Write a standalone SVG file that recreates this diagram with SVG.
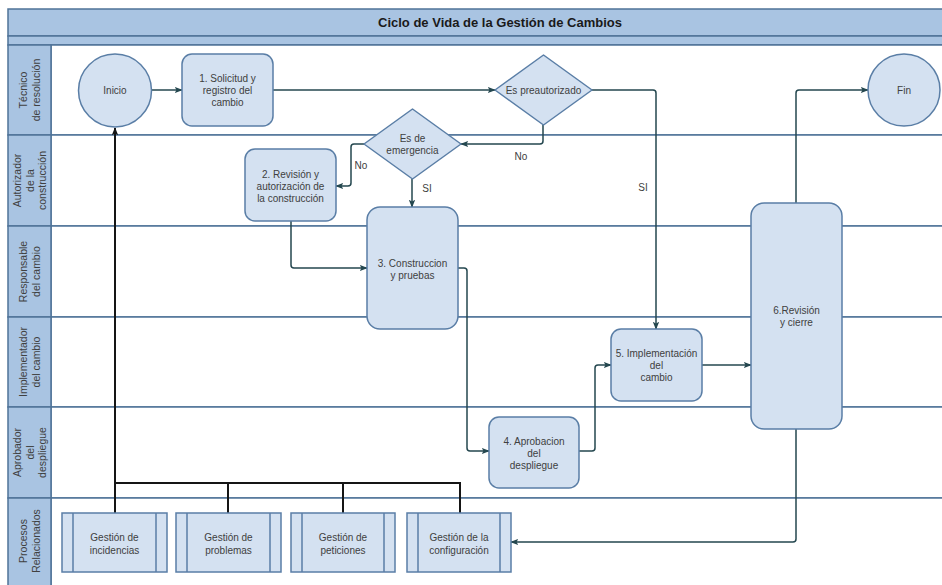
<svg xmlns="http://www.w3.org/2000/svg" width="942" height="585" viewBox="0 0 942 585">
  <defs>
    <style>
      .hdr { fill: #a9c4e2; stroke: #4f7398; stroke-width: 1.5; }
      .lane { fill: #ffffff; stroke: #4f7398; stroke-width: 1.5; }
      .lanehdr { fill: #a9c4e2; stroke: #4f7398; stroke-width: 1.5; }
      .node { fill: #d4e1f1; stroke: #5a7ea6; stroke-width: 1.5; }
      .txt { font-family: "Liberation Sans", Arial, sans-serif; font-size: 10px; fill: #404040; text-anchor: middle; }
      .lt { font-family: "Liberation Sans", Arial, sans-serif; font-size: 10.5px; fill: #404040; text-anchor: middle; }
      .title { font-family: "Liberation Sans", Arial, sans-serif; font-size: 13px; font-weight: bold; fill: #1a1a1a; text-anchor: middle; }
      .edge { fill: none; stroke: #24474f; stroke-width: 1.5; }
      .rel { fill: none; stroke: #151515; stroke-width: 2; }
    </style>
    <marker id="arr" viewBox="0 0 10 10" refX="9" refY="5" markerWidth="8" markerHeight="8" markerUnits="userSpaceOnUse" orient="auto">
      <path d="M0,1 L10,5 L0,9 L2,5 Z" fill="#24474f"/>
    </marker>
    <marker id="arrK" viewBox="0 0 10 10" refX="9" refY="5" markerWidth="8" markerHeight="8" markerUnits="userSpaceOnUse" orient="auto">
      <path d="M0,1 L10,5 L0,9 L2,5 Z" fill="#151515"/>
    </marker>
  </defs>

  <!-- pool header -->
  <g id="pool-title">
    <rect class="hdr" x="8" y="9" width="940" height="27"/>
    <rect class="hdr" x="8" y="36" width="940" height="9"/>
    <text class="title" x="500" y="27">Ciclo de Vida de la Gestión de Cambios</text>
  </g>

  <!-- swimlanes -->
  <g id="lanes">
    <rect class="lane" x="51" y="45" width="897" height="90"/>
    <rect class="lane" x="51" y="135" width="897" height="91"/>
    <rect class="lane" x="51" y="226" width="897" height="91"/>
    <rect class="lane" x="51" y="317" width="897" height="90"/>
    <rect class="lane" x="51" y="407" width="897" height="91"/>
    <rect class="lane" x="51" y="498" width="897" height="100"/>
    <rect class="lanehdr" x="8" y="45" width="43" height="90"/>
    <rect class="lanehdr" x="8" y="135" width="43" height="91"/>
    <rect class="lanehdr" x="8" y="226" width="43" height="91"/>
    <rect class="lanehdr" x="8" y="317" width="43" height="90"/>
    <rect class="lanehdr" x="8" y="407" width="43" height="91"/>
    <rect class="lanehdr" x="8" y="498" width="43" height="100"/>
    <text class="lt" transform="translate(30,90) rotate(-90)"><tspan x="0" y="-3">Técnico</tspan><tspan x="0" y="10">de resolución</tspan></text>
    <text class="lt" transform="translate(30,180.5) rotate(-90)"><tspan x="0" y="-9">Autorizador</tspan><tspan x="0" y="3.5">de la</tspan><tspan x="0" y="16">construcción</tspan></text>
    <text class="lt" transform="translate(30,271.5) rotate(-90)"><tspan x="0" y="-3">Responsable</tspan><tspan x="0" y="10">del cambio</tspan></text>
    <text class="lt" transform="translate(30,362) rotate(-90)"><tspan x="0" y="-3">Implementador</tspan><tspan x="0" y="10">del cambio</tspan></text>
    <text class="lt" transform="translate(30,452.5) rotate(-90)"><tspan x="0" y="-9">Aprobador</tspan><tspan x="0" y="3.5">del</tspan><tspan x="0" y="16">despliegue</tspan></text>
    <text class="lt" transform="translate(30,541) rotate(-90)"><tspan x="0" y="-3">Procesos</tspan><tspan x="0" y="10">Relacionados</tspan></text>
  </g>

  <!-- connectors -->
  <g id="connectors">
    <path class="edge" d="M151,90 H182" marker-end="url(#arr)"/>
    <path class="edge" d="M273,90 H495" marker-end="url(#arr)"/>
    <path class="edge" d="M543,125 V141 Q543,144 540,144 H461" marker-end="url(#arr)"/>
    <path class="edge" d="M364,144 H354 Q351,144 351,147 V183 Q351,186 348,186 H336" marker-end="url(#arr)"/>
    <path class="edge" d="M412,179 V207" marker-end="url(#arr)"/>
    <path class="edge" d="M592,90 H653 Q656,90 656,93 V329" marker-end="url(#arr)"/>
    <path class="edge" d="M291,221 V265 Q291,268 294,268 H367" marker-end="url(#arr)"/>
    <path class="edge" d="M458,268 H464 Q467,268 467,271 V448 Q467,451 470,451 H489" marker-end="url(#arr)"/>
    <path class="edge" d="M579,451 H592 Q595,451 595,448 V368 Q595,365 598,365 H611" marker-end="url(#arr)"/>
    <path class="edge" d="M702,365 H751" marker-end="url(#arr)"/>
    <path class="edge" d="M796,203 V93 Q796,90 799,90 H868" marker-end="url(#arr)"/>
    <path class="edge" d="M796,429 V539 Q796,542 793,542 H511" marker-end="url(#arr)"/>
    <!-- related processes feeding the start event -->
    <path class="rel" d="M115,513 V128" marker-end="url(#arrK)"/>
    <path class="rel" d="M115,483 H460 V513"/>
    <path class="rel" d="M228,483 V513"/>
    <path class="rel" d="M343,483 V513"/>
    <text class="txt" x="521" y="160">No</text>
    <text class="txt" x="361" y="169">No</text>
    <text class="txt" x="427" y="192">SI</text>
    <text class="txt" x="643" y="191">SI</text>
  </g>

  <!-- nodes -->
  <g id="inicio">
    <circle class="node" cx="115" cy="90.5" r="36.5"/>
    <text class="txt" x="115" y="94">Inicio</text>
  </g>
  <g id="solicitud">
    <rect class="node" x="182" y="54" width="91" height="72" rx="10"/>
    <text class="txt"><tspan x="227.5" y="81.5">1. Solicitud y</tspan><tspan x="227.5" y="93.5">registro del</tspan><tspan x="227.5" y="105.5">cambio</tspan></text>
  </g>
  <g id="preautorizado">
    <path class="node" d="M543.5,55 L592,90 L543.5,125 L495,90 Z" stroke-linejoin="round"/>
    <text class="txt" x="543.5" y="93.5">Es preautorizado</text>
  </g>
  <g id="emergencia">
    <path class="node" d="M412.5,109 L461,144 L412.5,179 L364,144 Z" stroke-linejoin="round"/>
    <text class="txt"><tspan x="412.5" y="142">Es de</tspan><tspan x="412.5" y="154">emergencia</tspan></text>
  </g>
  <g id="revision-autorizacion">
    <rect class="node" x="245" y="149" width="91" height="72" rx="10"/>
    <text class="txt"><tspan x="290.5" y="177.5">2. Revisión y</tspan><tspan x="290.5" y="189.5">autorización de</tspan><tspan x="290.5" y="201.5">la construcción</tspan></text>
  </g>
  <g id="construccion">
    <rect class="node" x="367" y="207" width="91" height="122" rx="13"/>
    <text class="txt"><tspan x="412.5" y="266.5">3. Construccion</tspan><tspan x="412.5" y="278.5">y pruebas</tspan></text>
  </g>
  <g id="aprobacion">
    <rect class="node" x="489" y="417" width="90" height="71" rx="10"/>
    <text class="txt"><tspan x="534" y="444.5">4. Aprobacion</tspan><tspan x="534" y="456.5">del</tspan><tspan x="534" y="468.5">despliegue</tspan></text>
  </g>
  <g id="implementacion">
    <rect class="node" x="611" y="329" width="91" height="72" rx="10"/>
    <text class="txt"><tspan x="656.5" y="356.5">5. Implementación</tspan><tspan x="656.5" y="368.5">del</tspan><tspan x="656.5" y="380.5">cambio</tspan></text>
  </g>
  <g id="revision-cierre">
    <rect class="node" x="751" y="203" width="91" height="226" rx="13"/>
    <text class="txt"><tspan x="796.5" y="313.5">6.Revisión</tspan><tspan x="796.5" y="325.5">y cierre</tspan></text>
  </g>
  <g id="fin">
    <circle class="node" cx="904" cy="90" r="36"/>
    <text class="txt" x="904" y="93.5">Fin</text>
  </g>

  <!-- related processes -->
  <g id="gestion-incidencias">
    <rect class="node" x="62" y="513" width="105" height="59"/>
    <path class="node" d="M73,513 V572 M156,513 V572"/>
    <text class="txt"><tspan x="114.5" y="541">Gestión de</tspan><tspan x="114.5" y="553.5">incidencias</tspan></text>
  </g>
  <g id="gestion-problemas">
    <rect class="node" x="176" y="513" width="105" height="59"/>
    <path class="node" d="M187,513 V572 M270,513 V572"/>
    <text class="txt"><tspan x="228.5" y="541">Gestión de</tspan><tspan x="228.5" y="553.5">problemas</tspan></text>
  </g>
  <g id="gestion-peticiones">
    <rect class="node" x="291" y="513" width="104" height="59"/>
    <path class="node" d="M302,513 V572 M384,513 V572"/>
    <text class="txt"><tspan x="343" y="541">Gestión de</tspan><tspan x="343" y="553.5">peticiones</tspan></text>
  </g>
  <g id="gestion-configuracion">
    <rect class="node" x="407" y="513" width="104" height="59"/>
    <path class="node" d="M418,513 V572 M500,513 V572"/>
    <text class="txt"><tspan x="459" y="541">Gestión de la</tspan><tspan x="459" y="553.5">configuración</tspan></text>
  </g>
</svg>
